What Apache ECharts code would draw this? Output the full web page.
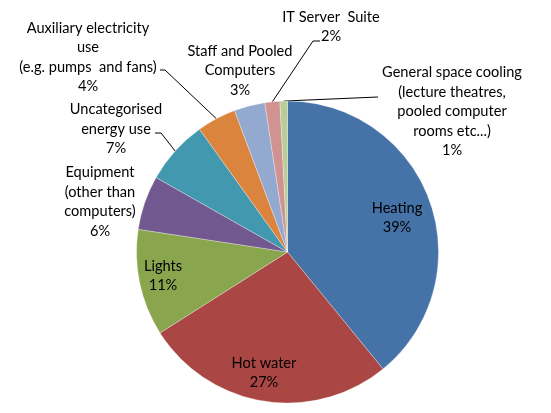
<!DOCTYPE html>
<html>
<head>
<meta charset="utf-8">
<script src="https://cdn.jsdelivr.net/npm/echarts@6/dist/echarts.min.js"></script>
<style>
html,body{margin:0;padding:0;background:#fff;}
#chart{width:551px;height:413px;}
</style>
</head>
<body>
<div id="chart"></div>
<script>
// Data
const categories = [
  "Heating",
  "Hot water",
  "Lights",
  "Equipment\n(other than\ncomputers)",
  "Uncategorised\nenergy use",
  "Auxiliary electricity\nuse\n(e.g. pumps  and fans)",
  "Staff and Pooled\nComputers",
  "IT Server  Suite",
  "General space cooling\n(lecture theatres,\npooled computer\nrooms etc...)"
];
const values = [39.1, 26.9, 11.4, 5.8, 6.9, 4.2, 3.3, 1.6, 0.8];
const colors = ["#4572A7", "#AA4643", "#89A54E", "#71588F", "#4198AF", "#DB843D", "#93A9CF", "#D19392", "#B9CD96"];

// Layout (label placement, not data)
const labelCenters = [
  [397, 218], [264, 373], [163, 276], [100, 202], [116, 129],
  [88, 57.5], [240, 70.5], [331, 27], [452, 111.5]
];
const leaderBends = {
  4: [[161, 133], [155, 133]],
  5: [[165, 70], [160, 70]],
  7: [[313, 41], [320, 41]],
  8: [[378, 97]]
};
const insideIdx = [0, 1, 2];

const chart = echarts.init(document.getElementById('chart'), null, {renderer: 'canvas'});
const data = categories.map((name, i) => ({
  name: name,
  value: values[i],
  itemStyle: {color: colors[i]},
  label: {position: insideIdx.includes(i) ? 'inside' : 'outside'},
  labelLine: {show: !!leaderBends[i]}
}));

chart.setOption({
  animation: false,
  series: [{
    type: 'pie',
    center: [287.5, 252],
    radius: 151,
    startAngle: 90,
    clockwise: true,
    percentPrecision: 0,
    avoidLabelOverlap: false,
    emphasis: {disabled: true},
    itemStyle: {borderColor: 'rgba(255,255,255,0.6)', borderWidth: 0.5},
    label: {
      show: true,
      formatter: '{b}\n{d}%',
      fontFamily: 'Lato',
      fontSize: 14.6,
      lineHeight: 19.5,
      color: '#000',
      align: 'center'
    },
    labelLine: {
      show: true,
      length: 10,
      length2: 10,
      lineStyle: {color: '#000', width: 1}
    },
    labelLayout: function (params) {
      const i = params.dataIndex;
      const p = labelCenters[i];
      const out = {x: p[0], y: p[1], align: 'center', verticalAlign: 'middle'};
      if (leaderBends[i] && params.labelLinePoints) {
        out.labelLinePoints = [params.labelLinePoints[0]].concat(leaderBends[i]);
      }
      return out;
    },
    data: data
  }]
});
</script>
</body>
</html>
